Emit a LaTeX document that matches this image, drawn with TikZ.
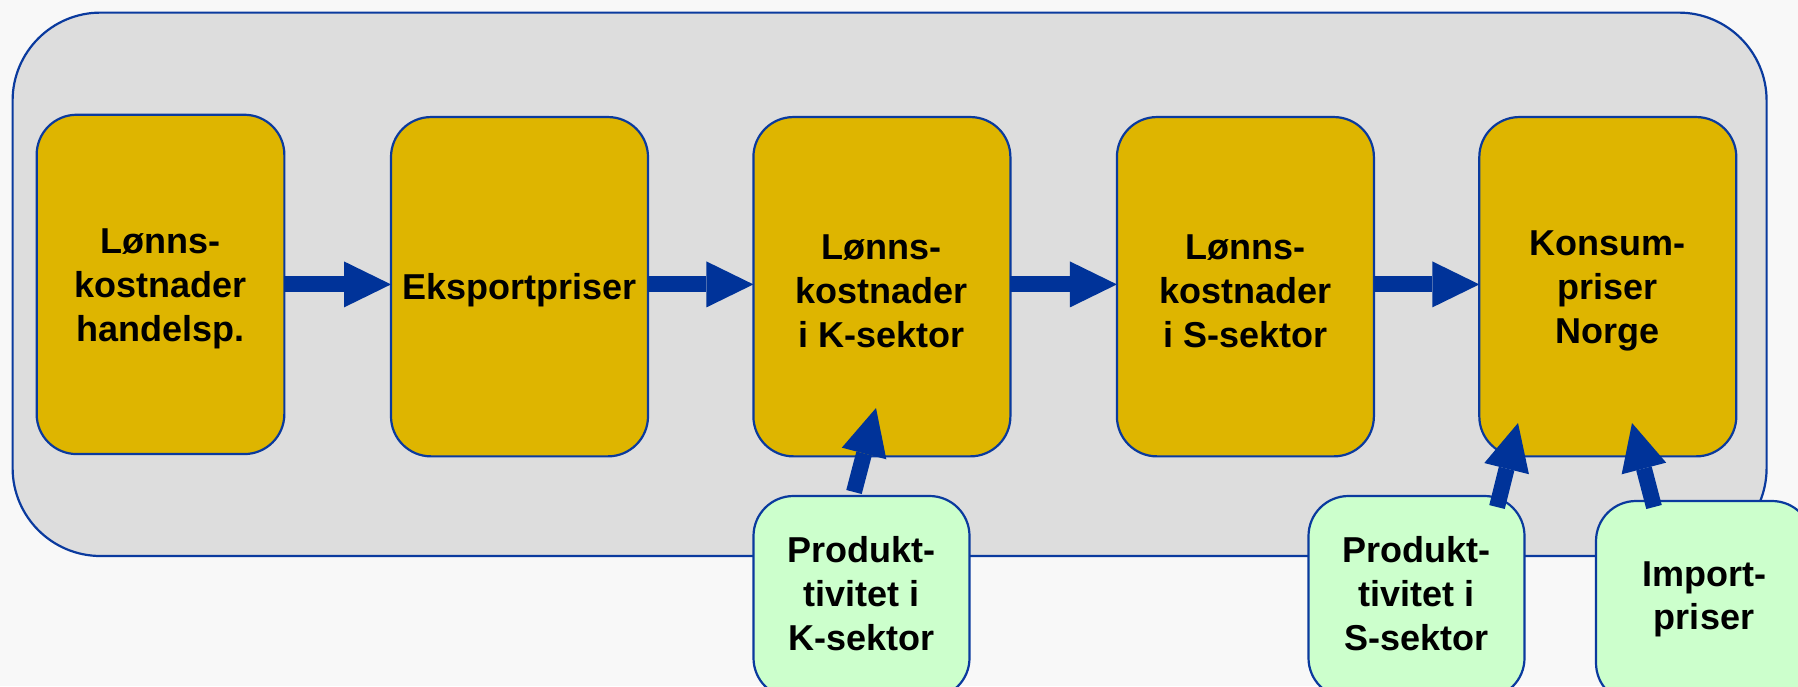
\documentclass[tikz,border=0pt]{standalone}
\usepackage{fontspec}
\setmainfont{Liberation Sans}
\usetikzlibrary{arrows.meta}
\definecolor{bg}{HTML}{F8F8F8}
\definecolor{panel}{HTML}{DDDDDD}
\definecolor{edge}{HTML}{0A3A9E}
\definecolor{arrowblue}{HTML}{003399}
\definecolor{gold}{HTML}{DEB500}
\definecolor{mint}{HTML}{CCFFCC}
\newcommand\topstrut{\rule{0pt}{34pt}}
\tikzset{
  panelbox/.style={draw=edge, fill=panel, line width=2.2pt, rounded corners=88pt,
    minimum width=1754pt, minimum height=543.4pt, inner sep=0pt, outer sep=0pt},
  goldbox/.style={draw=edge, fill=gold, line width=2.2pt, rounded corners=40pt,
    minimum width=257pt, minimum height=339.3pt, inner sep=0pt, outer sep=0pt,
    align=center, font=\fontsize{36}{44}\selectfont\bfseries},
  mintbox/.style={draw=edge, fill=mint, line width=2.2pt, rounded corners=40pt,
    minimum width=216pt, minimum height=202pt, inner sep=0pt, outer sep=0pt,
    align=center, font=\fontsize{36}{44}\selectfont\bfseries},
  flow/.style={draw=arrowblue, line width=16pt,
    -{Triangle[length=47pt,width=46pt,line width=0pt]}},
}
\begin{document}
\begin{tikzpicture}[x=1pt,y=-1pt]
\useasboundingbox (0,0) rectangle (1798,686);
\clip (0,0) rectangle (1798,686);
\fill[bg] (0,0) rectangle (1798,686);
% panel
\node[panelbox] (frame) at (889.6,284.3) {};
% main chain
\node[goldbox, minimum width=247.7pt] (b1) at (160.5,284.4) {\topstrut Lønns-\\kostnader\\handelsp.};
\node[goldbox] (b2) at (519.5,286.7) {\topstrut Eksportpriser};
\node[goldbox] (b3) at (881.9,286.7) {\topstrut Lønns-\\kostnader\\i K-sektor};
\node[goldbox] (b4) at (1245.4,286.7) {\topstrut Lønns-\\kostnader\\i S-sektor};
\node[goldbox] (b5) at (1607.8,286.7) {\topstrut Konsum-\\priser\\Norge};
\draw[flow] (b1.east) -- (b1.east -| b2.west);
\draw[flow] (b2.east |- b1.east) -- (b3.west |- b1.east);
\draw[flow] (b3.east |- b1.east) -- (b4.west |- b1.east);
\draw[flow] (b4.east |- b1.east) -- (b5.west |- b1.east);
% inputs
\node[mintbox] (g1) at (861.5,597) {Produkt-\\tivitet i\\K-sektor\rule[-8pt]{0pt}{0pt}};
\node[mintbox] (g2) at (1416.5,597) {Produkt-\\tivitet i\\S-sektor\rule[-8pt]{0pt}{0pt}};
\node[mintbox, font=\fontsize{36}{43}\selectfont\bfseries] (g3) at (1704,602) {Import-\\priser\rule[-13.5pt]{0pt}{0pt}};
\coordinate (p1) at (854,492);  \coordinate (q1) at (876,408);
\coordinate (p2) at (1497,507); \coordinate (q2) at (1518,423);
\coordinate (p3) at (1654,507); \coordinate (q3) at (1632,423);
\draw[flow] (p1) -- (q1);
\draw[flow] (p2) -- (q2);
\draw[flow] (p3) -- (q3);
\end{tikzpicture}
\end{document}
